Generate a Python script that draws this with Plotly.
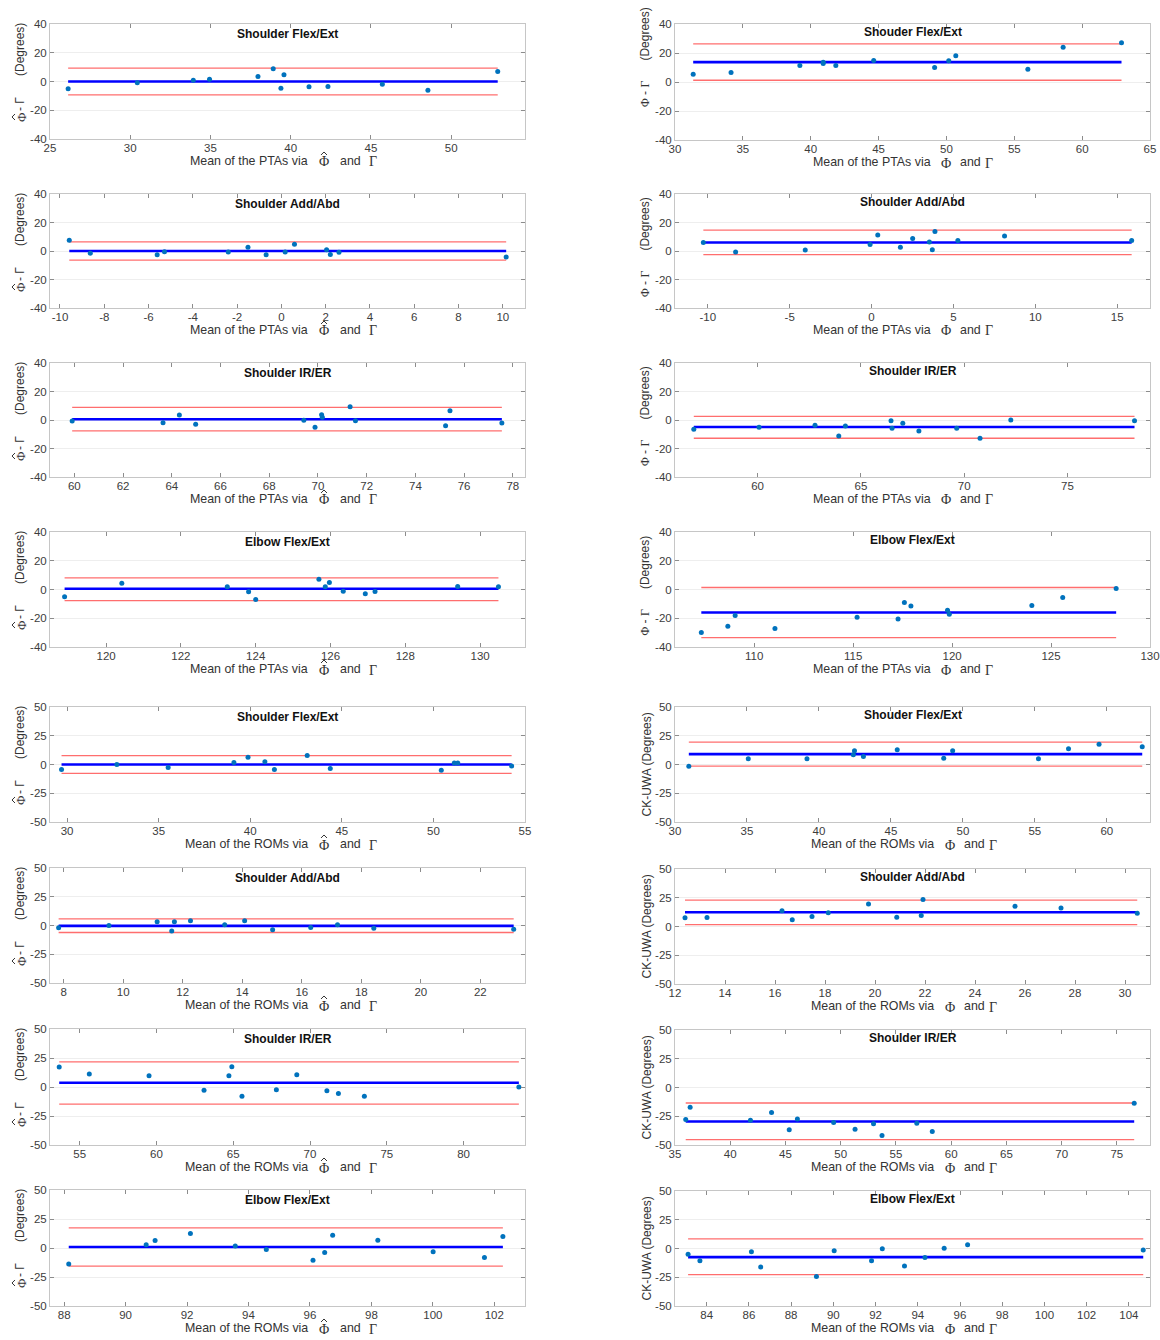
import plotly.graph_objects as go

W, H = 1160, 1340

# ---------------- data ----------------
titles_left = ["Shoulder Flex/Ext", "Shoulder Add/Abd", "Shoulder IR/ER", "Elbow Flex/Ext",
               "Shoulder Flex/Ext", "Shoulder Add/Abd", "Shoulder IR/ER", "Elbow Flex/Ext"]
titles_right = ["Shouder Flex/Ext", "Shoulder Add/Abd", "Shoulder IR/ER", "Elbow Flex/Ext",
                "Shouder Flex/Ext", "Shoulder Add/Abd", "Shoulder IR/ER", "Elbow Flex/Ext"]

L1_x = [26.13, 30.44, 33.93, 34.94, 37.96, 38.91, 39.58, 39.39, 41.14, 42.32, 45.71, 48.55, 52.90]
L1_y = [-5.1, -0.9, 0.9, 1.6, 3.5, 8.8, 4.7, -4.7, -3.7, -3.5, -1.9, -6.0, 7.0]
L2_x = [-9.58, -8.63, -5.61, -5.28, -2.40, -1.51, -0.69, 0.17, 0.59, 2.04, 2.21, 2.60, 10.15]
L2_y = [7.5, -1.6, -2.6, -0.5, -0.7, 2.6, -2.6, -0.7, 4.7, 0.9, -2.4, -0.9, -4.2]
L3_x = [59.91, 63.64, 64.31, 64.98, 69.42, 69.88, 70.15, 70.18, 71.32, 71.54, 75.24, 75.42, 77.55]
L3_y = [-0.7, -1.9, 3.5, -3.0, -0.2, -5.1, 3.7, 1.9, 9.3, -0.5, -4.0, 6.5, -2.1]
L4_x = [118.89, 120.42, 123.24, 123.81, 124.00, 125.69, 125.86, 125.97, 126.34, 126.93, 127.19, 129.40, 130.49]
L4_y = [-5.1, 4.4, 1.9, -1.6, -7.0, 7.2, 1.9, 4.9, -1.2, -3.0, -1.4, 2.1, 1.9]
L5_x = [29.70, 32.72, 35.52, 39.11, 39.88, 40.80, 41.32, 43.11, 44.37, 50.43, 51.14, 51.33, 54.27]
L5_y = [-4.4, 0.0, -2.6, 1.7, 6.4, 2.3, -4.4, 7.8, -3.5, -4.9, 1.2, 1.2, -1.2]
L6_x = [7.83, 9.52, 11.14, 11.63, 11.72, 12.26, 13.41, 14.08, 15.02, 16.30, 17.20, 18.42, 23.12]
L6_y = [-2.0, 0.0, 3.2, -4.7, 3.2, 4.1, 0.6, 4.1, -3.8, -1.7, 0.6, -2.3, -3.2]
L7_x = [53.67, 55.63, 59.52, 63.10, 64.72, 64.91, 65.57, 67.81, 69.14, 71.10, 71.85, 73.54, 83.60]
L7_y = [17.2, 11.2, 9.8, -2.9, 9.8, 17.5, -8.0, -2.3, 10.6, -3.2, -5.5, -8.0, 0.0]
L8_x = [88.15, 90.67, 90.96, 92.11, 93.57, 94.58, 96.10, 96.48, 96.74, 98.21, 100.01, 101.68, 102.28]
L8_y = [-13.7, 2.9, 6.4, 12.5, 1.7, -1.2, -10.5, -3.8, 11.0, 6.7, -3.2, -8.1, 9.9]

R1_x = [31.34, 34.13, 39.20, 40.92, 40.92, 41.85, 44.64, 49.13, 50.17, 50.69, 56.00, 58.60, 62.90]
R1_y = [5.3, 6.5, 11.4, 13.7, 12.8, 11.4, 14.9, 10.0, 14.7, 18.1, 8.8, 24.0, 27.0]
R2_x = [-10.27, -8.30, -4.05, -0.09, 0.38, 1.76, 2.51, 3.53, 3.71, 3.87, 5.27, 8.12, 15.88]
R2_y = [6.0, -0.7, 0.7, 4.6, 11.2, 2.6, 8.8, 6.3, 0.9, 13.7, 7.4, 10.5, 7.4]
R3_x = [56.91, 60.07, 62.78, 63.93, 64.25, 66.46, 66.51, 67.03, 67.81, 69.64, 70.77, 72.26, 78.25]
R3_y = [-6.5, -5.1, -3.6, -11.2, -4.2, -0.5, -5.8, -2.3, -7.7, -5.8, -12.8, 0.0, -0.5]
R4_x = [107.33, 108.67, 109.04, 111.05, 115.20, 117.27, 117.59, 117.92, 119.77, 119.86, 124.03, 125.59, 128.29]
R4_y = [-30.0, -25.6, -18.1, -27.2, -19.3, -20.5, -9.1, -11.4, -14.4, -17.2, -11.2, -5.6, 0.7]
R5_x = [30.96, 35.09, 39.17, 42.39, 42.47, 43.09, 45.44, 48.67, 49.29, 55.25, 57.34, 59.46, 62.46]
R5_y = [-1.5, 4.9, 4.9, 8.4, 11.9, 7.0, 12.8, 5.5, 11.9, 4.9, 13.7, 17.7, 15.4]
R6_x = [12.40, 13.28, 16.28, 16.69, 17.48, 18.13, 19.74, 20.87, 21.85, 21.92, 25.60, 27.44, 30.49]
R6_y = [7.6, 7.8, 13.7, 5.8, 8.7, 11.9, 19.5, 8.1, 9.6, 23.5, 17.7, 16.0, 11.6]
R7_x = [35.97, 36.37, 41.83, 43.74, 45.34, 46.08, 49.36, 51.30, 52.97, 53.74, 56.89, 58.29, 76.57]
R7_y = [-27.9, -17.2, -28.4, -21.8, -36.8, -27.3, -30.5, -36.2, -31.6, -41.7, -31.0, -38.2, -13.8]
R8_x = [83.12, 83.68, 86.12, 86.56, 89.20, 90.04, 91.81, 92.32, 93.37, 94.34, 95.25, 96.36, 104.68]
R8_y = [-4.9, -10.6, -2.9, -16.1, -24.4, -2.0, -10.6, -0.3, -15.2, -7.8, 0.3, 3.2, -1.4]

L_mean = [0.0, 0.0, 0.5, 0.5, 0.0, -0.3, 3.7, 0.9]
L_upper = [9.3, 6.4, 8.8, 8.1, 7.8, 5.8, 21.6, 17.4]
L_lower = [-9.3, -6.4, -7.7, -7.7, -7.8, -6.1, -14.7, -15.7]
R_mean = [13.7, 6.0, -4.9, -16.0, 9.0, 12.4, -29.6, -7.5]
R_upper = [26.3, 14.7, 2.6, 1.4, 19.5, 23.0, -13.5, 8.3]
R_lower = [1.2, -2.6, -12.8, -33.5, -1.5, 1.7, -45.4, -22.7]

L_xrange = [[25, 54.6], [-10.45, 11], [59, 78.5], [118.5, 131.2],
            [29.07, 55], [7.54, 23.5], [53.07, 84], [87.54, 103]]
R_xrange = [[30, 65], [-12, 17], [56, 79], [106, 130],
            [30, 63], [12, 31], [35, 78], [82.5, 105]]
L_xticks = [list(range(25, 51, 5)), list(range(-10, 11, 2)), list(range(60, 79, 2)), list(range(120, 131, 2)),
            list(range(30, 56, 5)), list(range(8, 23, 2)), list(range(55, 81, 5)), list(range(88, 103, 2))]
R_xticks = [list(range(30, 66, 5)), list(range(-10, 16, 5)), list(range(60, 76, 5)), list(range(110, 131, 5)),
            list(range(30, 61, 5)), list(range(12, 31, 2)), list(range(35, 76, 5)), list(range(84, 105, 2))]
yticks_pta = [-40, -20, 0, 20, 40]
yticks_rom = [-50, -25, 0, 25, 50]

# ---------------- layout geometry (pixels) ----------------
L_top = [24, 194, 363, 532, 707, 868, 1029, 1190]
L_bot = [139, 308, 477, 647, 822, 983, 1145, 1306]
R_top = [24, 194, 363, 532, 707, 869, 1030, 1191]
R_bot = [140, 308, 477, 647, 822, 984, 1145, 1306]
col_x = [(50, 525), (675, 1150)]

FONT = "Liberation Sans, Arial, sans-serif"
SERIF = "Liberation Serif, Times New Roman, serif"
NB = "\u00a0"
PHI = "\u03a6"
GAM = "\u0393"
LBL_COLOR = "#333333"


def lab(v):
    return str(v).replace("\u2212", "-")


def px_x(p):
    return p / W


def px_y(p):
    return 1 - p / H


left_data = [(L1_x, L1_y), (L2_x, L2_y), (L3_x, L3_y), (L4_x, L4_y),
             (L5_x, L5_y), (L6_x, L6_y), (L7_x, L7_y), (L8_x, L8_y)]
right_data = [(R1_x, R1_y), (R2_x, R2_y), (R3_x, R3_y), (R4_x, R4_y),
              (R5_x, R5_y), (R6_x, R6_y), (R7_x, R7_y), (R8_x, R8_y)]

fig = go.Figure()
annotations = []
shapes = []
layout_axes = {}


def ann(text, x, y, size=12.4, family=FONT, xanchor="center", angle=0, color=LBL_COLOR):
    annotations.append(dict(text=text, x=px_x(x), y=px_y(y), xref="paper", yref="paper",
                            showarrow=False, xanchor=xanchor, yanchor="middle",
                            textangle=angle, font=dict(family=family, size=size, color=color)))


def hat(points):
    # circumflex accent drawn as a tiny polyline (pixel coordinates -> paper)
    d = "M " + " L ".join(f"{px_x(a):.5f},{px_y(b):.5f}" for a, b in points)
    shapes.append(dict(type="path", path=d, xref="paper", yref="paper",
                       line=dict(color=LBL_COLOR, width=1)))


for col in range(2):
    for row in range(8):
        n = col * 8 + row + 1
        xa = "x" if n == 1 else f"x{n}"
        ya = "y" if n == 1 else f"y{n}"
        if col == 0:
            xs, ys = left_data[row]
            m, up, lo = L_mean[row], L_upper[row], L_lower[row]
            xr, xt = L_xrange[row], L_xticks[row]
            top, bot = L_top[row], L_bot[row]
            title = titles_left[row]
        else:
            xs, ys = right_data[row]
            m, up, lo = R_mean[row], R_upper[row], R_lower[row]
            xr, xt = R_xrange[row], R_xticks[row]
            top, bot = R_top[row], R_bot[row]
            title = titles_right[row]
        rom = row >= 4
        yt = yticks_rom if rom else yticks_pta
        yr = [-50, 50] if rom else [-40, 40]
        x0, x1 = min(xs), max(xs)

        for val, colr, wd in [(up, "rgb(255,110,110)", 1.3), (lo, "rgb(255,110,110)", 1.3),
                              (m, "#0000ff", 2.6)]:
            fig.add_trace(go.Scatter(x=[x0, x1], y=[val, val], mode="lines",
                                     line=dict(color=colr, width=wd),
                                     xaxis=xa, yaxis=ya, showlegend=False, hoverinfo="skip"))
        fig.add_trace(go.Scatter(x=xs, y=ys, mode="markers",
                                 marker=dict(color="#0072BD", size=5),
                                 xaxis=xa, yaxis=ya, showlegend=False))

        px0, px1 = col_x[col]
        common = dict(showline=True, linecolor="#c6c6c6", linewidth=1, mirror="ticks",
                      ticks="inside", ticklen=4, tickcolor="#8c8c8c", tickwidth=1,
                      zeroline=False, automargin=False, fixedrange=True,
                      tickfont=dict(family=FONT, size=11.5, color="#3c3c3c"))
        layout_axes["xaxis" if n == 1 else f"xaxis{n}"] = dict(
            domain=[px0 / W, px1 / W], range=xr, tickvals=xt, ticktext=[lab(v) for v in xt],
            showgrid=False, anchor=ya, ticklabelstandoff=-2, **common)
        layout_axes["yaxis" if n == 1 else f"yaxis{n}"] = dict(
            domain=[1 - bot / H, 1 - top / H], range=yr, tickvals=yt, ticktext=[lab(v) for v in yt],
            showgrid=True, gridcolor="#eeeeee", gridwidth=1, anchor=xa, **common)

        # title inside the plot
        ty = top + (10 if col == 0 else 8)
        ann(f"<b>{title}</b>", (px0 + px1) / 2, ty, size=12, color="#111111")

        # x label, built from pieces so the hat sits over the Phi
        what = "ROMs" if rom else "PTAs"
        ly = bot + 22
        if col == 0:
            via_r, phi_x, and_l, gam_x = 310, 324, 338, 373
        elif not rom:
            via_r, phi_x, and_l, gam_x = 933, 946, 958, 989
        else:
            via_r, phi_x, and_l, gam_x = 936, 950, 962, 993
        ann(f"Mean of the {what} via", via_r, ly, xanchor="right")
        ann(PHI, phi_x, ly + 1, size=14, family=SERIF)
        if col == 0:
            hat([(phi_x - 3, ly - 6), (phi_x, ly - 9), (phi_x + 3, ly - 6)])
        ann("and", and_l, ly, xanchor="left")
        ann(GAM, gam_x, ly + 1, size=14, family=SERIF)

        # y label
        if col == 0:
            ann("(Degrees)", 20, top + 26, size=12, angle=-90)
            ann(f"-{NB}{GAM}", 20, top + 80, size=12, angle=-90)
            ann(PHI, 21, top + 93, size=13, family=SERIF, angle=-90)
            hat([(15, top + 90), (12, top + 93), (15, top + 96)])
        elif not rom:
            cy = 57 if row == 0 else (top + bot) / 2 - 4
            ann(f"<span style='font-family:{SERIF}'>{PHI}</span> - "
                f"<span style='font-family:{SERIF}'>{GAM}</span>{NB*6}(Degrees)",
                645, cy, size=12, angle=-90)
        else:
            ann("CK-UWA (Degrees)", 646, (top + bot) / 2, size=12, angle=-90)

fig.update_layout(width=W, height=H, margin=dict(l=0, r=0, t=0, b=0),
                  paper_bgcolor="white", plot_bgcolor="white",
                  showlegend=False, annotations=annotations, shapes=shapes, **layout_axes)

fig.write_html("out.html")
